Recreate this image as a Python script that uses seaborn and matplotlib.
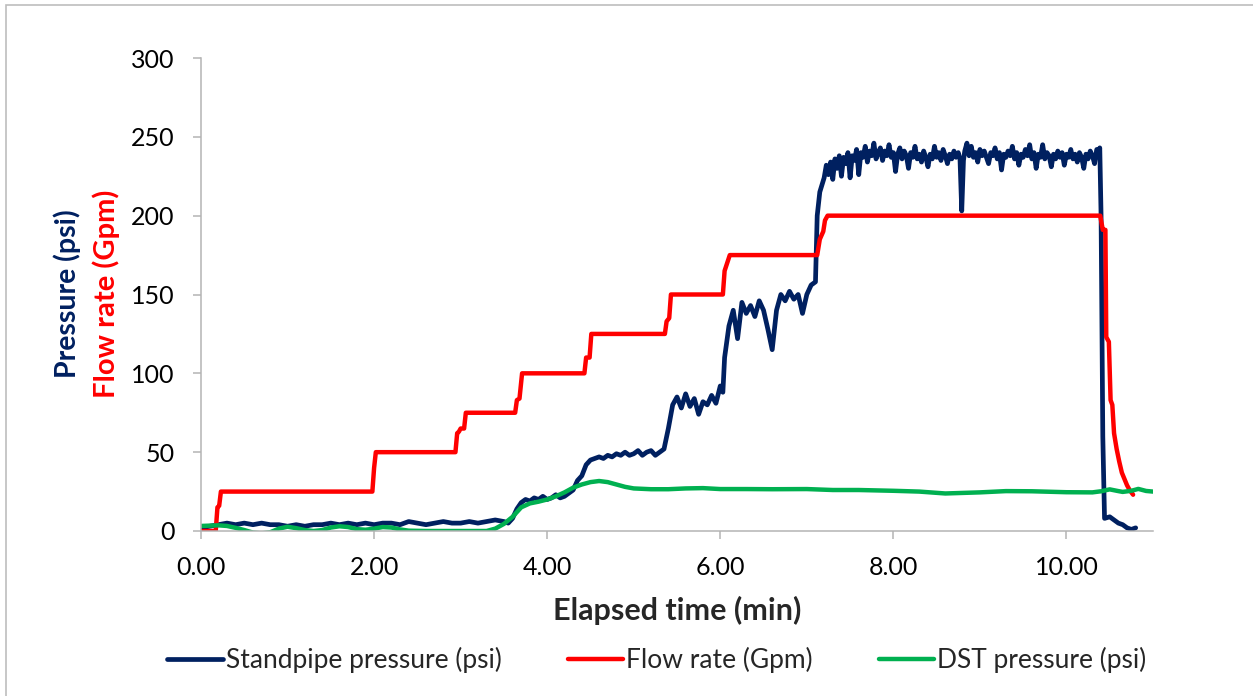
import pandas as pd
import matplotlib
matplotlib.use('Agg')
import matplotlib.pyplot as plt
import matplotlib.ticker as mtick
from matplotlib.patches import Rectangle
import seaborn as sns

# standpipe pressure (psi), in pieces: low, ramp, plateau, drop
sp_low_t = [0.0, 0.1, 0.2, 0.3, 0.4, 0.5, 0.6, 0.7, 0.8, 0.9, 1.0, 1.1, 1.2, 1.3, 1.4, 1.5, 1.6, 1.7,
            1.8, 1.9, 2.0, 2.1, 2.2, 2.3, 2.4, 2.5, 2.6, 2.7, 2.8, 2.9, 3.0, 3.1, 3.2, 3.3, 3.4, 3.5]
sp_low_v = [2, 3, 4, 5, 4, 5, 4, 5, 4, 4, 3, 4, 3, 4, 4, 5, 4, 5,
            4, 5, 4, 5, 5, 4, 6, 5, 4, 5, 6, 5, 5, 6, 5, 6, 7, 6]
sp_ramp_t = [3.55, 3.6, 3.65, 3.7, 3.75, 3.8, 3.85, 3.9, 3.95, 4.0, 4.05, 4.1, 4.15, 4.2, 4.25, 4.3,
             4.35, 4.4, 4.45, 4.5, 4.55, 4.6, 4.65, 4.7, 4.75, 4.8, 4.85, 4.9, 4.95, 5.0, 5.05, 5.1,
             5.15, 5.2, 5.25, 5.3, 5.35, 5.4, 5.45, 5.5, 5.55, 5.6, 5.65, 5.7, 5.75, 5.8, 5.85, 5.9,
             5.95, 6.0, 6.03, 6.05, 6.1, 6.15, 6.2, 6.25, 6.3, 6.35, 6.4, 6.45, 6.5, 6.55, 6.6, 6.65,
             6.7, 6.75, 6.8, 6.85, 6.9, 6.95, 7.0, 7.05, 7.1, 7.12, 7.15]
sp_ramp_v = [5, 8, 14, 18, 20, 19, 21, 20, 22, 20, 21, 23, 21, 22, 24, 26,
             32, 35, 42, 45, 46, 47, 46, 48, 47, 49, 48, 50, 48, 49, 51, 48,
             50, 51, 48, 50, 52, 65, 80, 85, 78, 87, 79, 84, 74, 82, 80, 86,
             81, 92, 88, 110, 130, 140, 122, 145, 138, 143, 136, 146, 140, 128, 115, 140,
             150, 146, 152, 147, 150, 138, 150, 156, 158, 200, 215]
sp_plat_t = [7.2, 7.225, 7.25, 7.275, 7.3, 7.325, 7.35, 7.375, 7.4, 7.425, 7.45, 7.475, 7.5, 7.525,
             7.55, 7.575, 7.6, 7.625, 7.65, 7.675, 7.7, 7.725, 7.75, 7.775, 7.8, 7.825, 7.85, 7.875,
             7.9, 7.925, 7.95, 7.975, 8.0, 8.025, 8.05, 8.075, 8.1, 8.125, 8.15, 8.175, 8.2, 8.225,
             8.25, 8.275, 8.3, 8.325, 8.35, 8.375, 8.4, 8.425, 8.45, 8.475, 8.5, 8.525, 8.55, 8.575,
             8.6, 8.625, 8.65, 8.675, 8.7, 8.725, 8.75, 8.77, 8.79, 8.81, 8.825, 8.85, 8.875, 8.9,
             8.925, 8.95, 8.975, 9.0, 9.025, 9.05, 9.075, 9.1, 9.125, 9.15, 9.175, 9.2, 9.225, 9.25,
             9.275, 9.3, 9.325, 9.35, 9.375, 9.4, 9.425, 9.45, 9.475, 9.5, 9.525, 9.55, 9.575, 9.6,
             9.625, 9.65, 9.675, 9.7, 9.725, 9.75, 9.775, 9.8, 9.825, 9.85, 9.875, 9.9, 9.925, 9.95,
             9.975, 10.0, 10.025, 10.05, 10.075, 10.1, 10.125, 10.15, 10.175, 10.2, 10.225, 10.25,
             10.275, 10.3, 10.325, 10.35, 10.375, 10.385]
sp_plat_v = [224, 232, 226, 234, 223, 236, 230, 238, 225, 237, 233, 240, 224, 238,
             235, 242, 226, 240, 237, 244, 234, 241, 238, 246, 236, 240, 243, 235,
             241, 238, 245, 237, 240, 228, 239, 243, 236, 241, 238, 230, 240, 237,
             244, 236, 239, 234, 241, 237, 231, 239, 236, 244, 237, 240, 235, 242,
             238, 233, 239, 236, 241, 237, 240, 236, 203, 235, 241, 246, 238, 244,
             237, 240, 234, 242, 238, 241, 237, 233, 240, 238, 243, 236, 240, 229,
             239, 237, 241, 238, 244, 236, 240, 232, 239, 237, 242, 238, 245, 236,
             240, 230, 239, 237, 245, 236, 240, 238, 231, 239, 236, 241, 237, 240,
             232, 239, 237, 242, 236, 239, 234, 240, 237, 230, 239, 236,
             241, 238, 233, 242, 240, 243]
sp_drop_t = [10.4, 10.42, 10.44, 10.5, 10.55, 10.6, 10.65, 10.7, 10.75, 10.8]
sp_drop_v = [200, 60, 8, 9, 7, 5, 4, 2, 1, 2]

# flow rate (Gpm)
fr_time = [0.0, 0.17, 0.19, 0.21, 0.23, 1.98, 2.0, 2.02, 2.94, 2.96, 2.98, 3.0, 3.04, 3.06,
           3.63, 3.65, 3.68, 3.71, 4.43, 4.45, 4.49, 4.51, 5.36, 5.38, 5.41, 5.43, 6.03, 6.05,
           6.08, 6.11, 7.12, 7.15, 7.19, 7.21, 7.24, 10.39, 10.42, 10.45, 10.46, 10.49, 10.51,
           10.53, 10.55, 10.58, 10.61, 10.64, 10.67, 10.7, 10.73, 10.77]
fr_value = [0, 0, 15, 16, 25, 25, 40, 50, 50, 62, 63, 65, 65, 75,
            75, 83, 84, 100, 100, 110, 110, 125, 125, 133, 135, 150, 150, 165,
            170, 175, 175, 185, 190, 197, 200, 200, 191, 191, 123, 120, 83,
            80, 62, 52, 44, 37, 33, 29, 26, 23]

# DST pressure (psi)
dst_time = [0.0, 0.1, 0.2, 0.3, 0.4, 0.5, 0.6, 0.7, 0.8, 0.9, 1.0, 1.1, 1.2, 1.3, 1.4, 1.5,
            1.6, 1.7, 1.8, 1.9, 2.0, 2.1, 2.2, 2.3, 2.4, 2.6, 3.0, 3.3, 3.4, 3.5, 3.6, 3.7, 3.8,
            3.9, 4.0, 4.1, 4.2, 4.3, 4.4, 4.5, 4.6, 4.7, 4.8, 4.9, 5.0, 5.2, 5.4, 5.6, 5.8,
            6.0, 6.3, 6.6, 7.0, 7.3, 7.6, 8.0, 8.3, 8.6, 9.0, 9.3, 9.6, 10.0, 10.3, 10.4, 10.5,
            10.6, 10.65, 10.75, 10.83, 10.92, 11.0]
dst_value = [3.2, 3.4, 3.6, 3.2, 2.0, 0.6, -1.0, -1.5, -0.8, 1.5, 2.7, 1.8, 0.6, 0.0, 0.6, 2.2,
             3.0, 2.5, 1.2, 0.8, 1.5, 2.5, 2.2, 1.0, 0.2, 0.0, 0.0, 0.0, 1.5, 4.5, 9.0, 15.0, 17.5,
             18.6, 20.0, 22.0, 24.5, 27.5, 29.5, 31.0, 31.7, 31.0, 29.5, 28.0, 27.0, 26.5, 26.5, 27.0, 27.2,
             26.6, 26.6, 26.5, 26.6, 26.0, 26.0, 25.5, 25.0, 23.8, 24.5, 25.3, 25.2, 24.6, 24.5, 25.2, 26.4,
             25.3, 24.8, 25.5, 26.7, 25.4, 25.0]

navy = '#002060'
red = '#FF0000'
green = '#00B050'

sns.set_style('white')
plt.rcParams['font.family'] = ['Lato', 'DejaVu Sans']

fig = plt.figure(figsize=(12.53, 6.96), dpi=100)
ax = fig.add_axes([201 / 1253, 1 - 531 / 696, 952 / 1253, 473 / 696])

sp = pd.DataFrame({'t': sp_low_t + sp_ramp_t + sp_plat_t + sp_drop_t,
                   'v': sp_low_v + sp_ramp_v + sp_plat_v + sp_drop_v})
fr = pd.DataFrame({'t': fr_time, 'v': fr_value})
dst = pd.DataFrame({'t': dst_time, 'v': dst_value})

sns.lineplot(data=sp, x='t', y='v', ax=ax, color=navy, lw=3.4, sort=False, estimator=None,
             label='Standpipe pressure (psi)')
sns.lineplot(data=fr, x='t', y='v', ax=ax, color=red, lw=3.2, sort=False, estimator=None,
             label='Flow rate (Gpm)')
sns.lineplot(data=dst, x='t', y='v', ax=ax, color=green, lw=3.2, sort=False, estimator=None,
             label='DST pressure (psi)')

ax.set_xlim(0, 11)
ax.set_ylim(0, 300)
ax.set_xticks([0, 2, 4, 6, 8, 10])
ax.set_yticks(range(0, 301, 50))
ax.xaxis.set_major_formatter(mtick.FormatStrFormatter('%.2f'))

for s in ['top', 'right']:
    ax.spines[s].set_visible(False)
for s in ['left', 'bottom']:
    ax.spines[s].set_color('#B4B4B4')
    ax.spines[s].set_linewidth(1.1)
ax.tick_params(axis='both', direction='out', length=6, width=1.1, color='#B4B4B4',
               labelsize=18, labelcolor='black', left=True, bottom=True)
ax.tick_params(axis='x', pad=12)
ax.tick_params(axis='y', pad=13)

ax.set_xlabel('Elapsed time (min)', fontsize=22, fontweight='bold', labelpad=12)
ax.set_ylabel('')

fig.text(67 / 1253, 1 - 294 / 696, 'Pressure (psi)', rotation=90, ha='center', va='center',
         fontsize=20.5, fontweight='bold', color=navy)
fig.text(106 / 1253, 1 - 294 / 696, 'Flow rate (Gpm)', rotation=90, ha='center', va='center',
         fontsize=21, fontweight='bold', color=red)

handles, labels = ax.get_legend_handles_labels()
ax.get_legend().remove()
fig.legend(handles, labels, loc='center', bbox_to_anchor=(657 / 1253, 1 - 660 / 696), ncol=3,
           frameon=False, fontsize=19, handlelength=2.1, handletextpad=0.12, columnspacing=2.5)

fig.patches.append(Rectangle((6 / 1253, -0.1), 1.2, 1 - 5 / 696 + 0.1, transform=fig.transFigure,
                             fill=False, edgecolor='#BDBDBD', lw=1.2))

fig.savefig('out.png', dpi=100)
